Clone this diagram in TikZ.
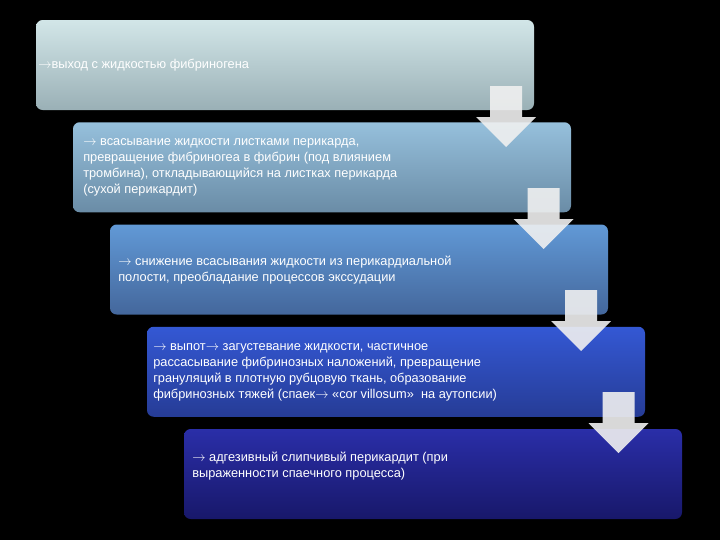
\documentclass[tikz,border=0pt]{standalone}
\usepackage{fontspec}
\setmainfont{Liberation Sans}
\begin{document}
\begin{tikzpicture}[x=0.75pt,y=-0.75pt,
  stepbox/.style={rounded corners=5pt},
  txt/.style={anchor=north west,align=left,inner sep=0pt,text=white,font=\fontsize{9.6pt}{12pt}\selectfont},
  darr/.style={fill=white!88!gray,fill opacity=0.9,draw=none}]
\fill[black] (0,0) rectangle (720,540);
\useasboundingbox (0,0) rectangle (720,540);
\def\boxes{{"c1","c2"}}
\definecolor{t1}{HTML}{D2E6E8}\definecolor{b1}{HTML}{9AB0B6}
\definecolor{t2}{HTML}{96C0DC}\definecolor{b2}{HTML}{6A8CA6}
\definecolor{t3}{HTML}{6199D6}\definecolor{b3}{HTML}{44679C}
\definecolor{t4}{HTML}{3458D4}\definecolor{b4}{HTML}{263C96}
\definecolor{t5}{HTML}{2A2EA8}\definecolor{b5}{HTML}{18186A}
\foreach \i in {1,...,5}{
  \pgfmathsetmacro{\xo}{36+37*(\i-1)}
  \pgfmathsetmacro{\yo}{20+102.25*(\i-1)}
  \shade[stepbox,top color=t\i,bottom color=b\i] (\xo,\yo) rectangle ++(498,90);
}
\node[txt] (n1) at (38,59) {\(\rightarrow\)выход с жидкостью фибриногена};
\node[txt] (n2) at (83,138) {\(\rightarrow\) всасывание жидкости листками перикарда,\\превращение фибриногеа в фибрин (под влиянием\\тромбина), откладывающийся на листках перикарда\\(сухой перикардит)};
\node[txt] (n3) at (118,256) {\(\rightarrow\) снижение всасывания жидкости из перикардиальной\\полости, преобладание процессов экссудации};
\node[txt] (n4) at (153,343) {\(\rightarrow\) выпот\(\rightarrow\) загустевание жидкости, частичное\\рассасывание фибринозных наложений, превращение\\грануляций в плотную рубцовую ткань, образование\\фибринозных тяжей (спаек\(\rightarrow\) «cor villosum»\ \ на аутопсии)};
\node[txt] (n5) at (192,452) {\(\rightarrow\) адгезивный слипчивый перикардит (при\\выраженности спаечного процесса)};
\foreach \i in {1,...,4}{
  \pgfmathsetmacro{\xa}{490+37.5*(\i-1)}
  \pgfmathsetmacro{\ya}{86+102*(\i-1)}
  \fill[darr] (\xa,\ya) -- ++(32,0) -- ++(0,31) -- ++(14,0) -- ++(-30,30) -- ++(-30,-30) -- ++(14,0) -- cycle;
}
\end{tikzpicture}
\end{document}
